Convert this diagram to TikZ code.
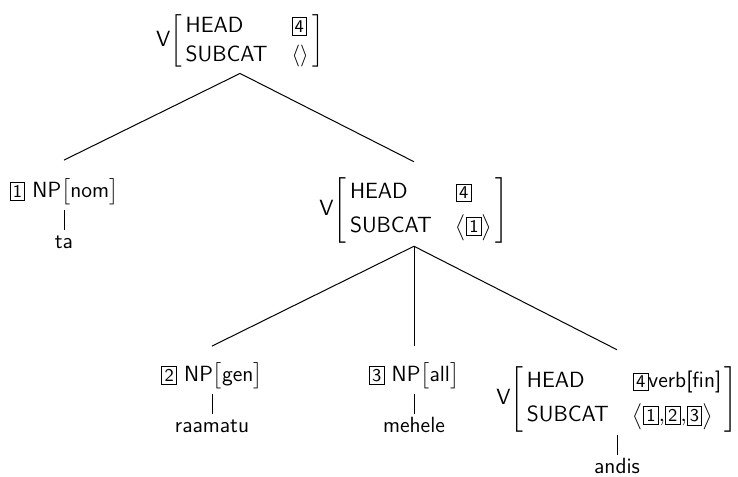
\documentclass[tikz,border=0pt]{standalone}
\usepackage{amsmath}
\usepackage{tikz}
\usetikzlibrary{positioning}
\newcommand{\tagbox}[1]{{\setlength{\fboxsep}{1.2pt}\fbox{\small #1}}}
\renewcommand{\arraystretch}{1.1}

\begin{document}
\begin{tikzpicture}[x=0.5pt, y=-0.5pt, every node/.style={font=\sffamily\fontsize{11pt}{13.2pt}\selectfont}]
      \tikzset{
        avm/.style={inner sep=1.5pt},
        leaf/.style={inner sep=1.5pt, text height=7.5pt, text depth=0pt},
        branch/.style={line width=0.5pt, color=black}
      }
      \useasboundingbox (0,0) rectangle (738,476);

      % Nodes
      \node[avm] (top) at (240,41) {V$\left[\begin{tabular}{@{\,}ll@{\,}}HEAD & \tagbox{4}\\ SUBCAT & $\langle\rangle$\end{tabular}\right]$};

      \node[avm] (nom) at (64,192) {\tagbox{1} NP$\left[\begin{tabular}{@{}l@{}}nom\end{tabular}\right]$};
      \node[avm] (mid) at (414,210) {V$\left[\begin{tabular}{@{\,}ll@{\,}}HEAD & \tagbox{4}\\[2.5pt] SUBCAT & $\bigl\langle\tagbox{1}\bigr\rangle$\end{tabular}\right]$};

      \node[avm] (gen) at (212,376) {\tagbox{2} NP$\left[\begin{tabular}{@{}l@{}}gen\end{tabular}\right]$};
      \node[avm] (all) at (414,376) {\tagbox{3} NP$\left[\begin{tabular}{@{}l@{}}all\end{tabular}\right]$};
      \node[avm] (fin) at (617,399) {V$\left[\begin{tabular}{@{\,}ll@{\,}}HEAD & \tagbox{4}verb[fin]\\[2.5pt] SUBCAT & $\bigl\langle\tagbox{1}{,}\tagbox{2}{,}\tagbox{3}\bigr\rangle$\end{tabular}\right]$};

      \node[leaf, below=10pt of nom] (ta) {ta};
      \node[leaf, below=10pt of gen] (raamatu) {raamatu};
      \node[leaf, below=10pt of all] (mehele) {mehele};
      \node[leaf, below=10pt of fin] (andis) {andis};

      % Connections
      \draw[branch] (top.south) -- ([yshift=7pt]nom.north);
      \draw[branch] (top.south) -- ([yshift=6pt]mid.north);
      \draw[branch] (mid.south) -- ([yshift=6pt]gen.north);
      \draw[branch] (mid.south) -- ([yshift=6pt]all.north);
      \draw[branch] (mid.south) -- ([yshift=6.5pt]fin.north);
      \draw[branch] (nom.south) -- (ta.north);
      \draw[branch] (gen.south) -- (raamatu.north);
      \draw[branch] (all.south) -- (mehele.north);
      \draw[branch] (fin.south) -- (andis.north);

    \end{tikzpicture}
\end{document}
